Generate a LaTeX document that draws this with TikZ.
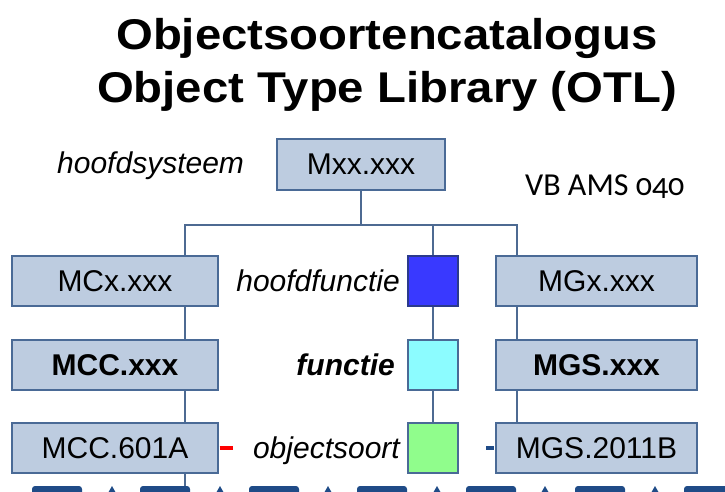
\documentclass[tikz,border=0pt]{standalone}
\usepackage{graphicx}
\usepackage{fontspec}
\setmainfont{Liberation Sans}
\newfontfamily\codefont[Numbers=OldStyle]{Carlito}

\definecolor{boxfill}{HTML}{BDCCE0}
\definecolor{boxline}{HTML}{4A6A96}
\definecolor{wire}{HTML}{4D6A92}
\definecolor{hfblue}{HTML}{3939FF}
\definecolor{hfline}{HTML}{2B3A8C}
\definecolor{fcyan}{HTML}{8CFCFF}
\definecolor{osgreen}{HTML}{90FD8C}
\definecolor{navy}{HTML}{1F4B87}

\tikzset{
  codebox/.style={draw=boxline, line width=1.4pt, fill=boxfill, inner sep=0pt,
    minimum height=50pt, font=\fontsize{30}{30}\selectfont},
  leftbox/.style={codebox, minimum width=206pt},
  rightbox/.style={codebox, minimum width=201pt},
  levelsq/.style={draw=boxline, line width=1.4pt, inner sep=0pt, minimum size=50pt},
  levellabel/.style={anchor=base east, inner sep=0pt, font=\fontsize{30}{30}\selectfont\itshape},
  titleline/.style={anchor=base, inner sep=0pt},
  wireline/.style={draw=wire, line width=1.2pt},
  tick/.style={line width=4pt},
}

\begin{document}
\begin{tikzpicture}[x=1pt, y=-1pt]
  \useasboundingbox (0,0) rectangle (725,491);

  % title
  \node[titleline] (t1) at (387,49)
    {\scalebox{1.1}[1]{\fontsize{43}{43}\selectfont\bfseries Objectsoortencatalogus}};
  \node[titleline] (t2) at (387,102)
    {\scalebox{1.1}[1]{\fontsize{43}{43}\selectfont\bfseries Object Type Library (OTL)}};

  % top of the hierarchy
  \node[codebox, minimum width=168pt, minimum height=51pt] (main) at (361,164.5) {Mxx.xxx};
  \node[anchor=base west, inner sep=0pt, font=\fontsize{30}{30}\selectfont\itshape]
    (hs) at (57,173) {hoofdsysteem};
  \node[anchor=base west, inner sep=0pt, font=\fontsize{32}{32}\selectfont\codefont]
    (vb) at (525,195) {VB AMS 040};

  % left column
  \node[leftbox] (mcx) at (115,281) {MCx.xxx};
  \node[leftbox, font=\fontsize{30}{30}\selectfont\bfseries] (mcc) at (115,365) {MCC.xxx};
  \node[leftbox] (mca) at (115,448) {MCC.601A};

  % right column
  \node[rightbox] (mgx) at (596.5,281) {MGx.xxx};
  \node[rightbox, font=\fontsize{30}{30}\selectfont\bfseries] (mgs) at (596.5,365) {MGS.xxx};
  \node[rightbox] (mgb) at (596.5,448) {MGS.2011B};

  % level squares with their labels
  \node[levelsq, draw=hfline, fill=hfblue] (sq1) at (433,281) {};
  \node[levelsq, fill=fcyan] (sq2) at (433,365) {};
  \node[levelsq, fill=osgreen] (sq3) at (433,448) {};
  \node[levellabel] (l1) at (400,291.5) {hoofdfunctie};
  \node[levellabel, font=\fontsize{30}{30}\selectfont\bfseries\itshape] (l2) at (395,375.5) {functie};
  \node[levellabel] (l3) at (400,458.5) {objectsoort};

  % column positions
  \coordinate (colL) at (185,0);
  \coordinate (colM) at (433,0);
  \coordinate (colR) at (517,0);
  \coordinate (bus) at (361,225);

  % strip along the bottom edge
  \foreach \x in {32,140,249,357,466,575,684}
    \fill[navy, rounded corners=3pt] (\x,486) rectangle ++(50,12);
  \foreach \x in {112,220,328,437,545,655}
    \fill[navy] (\x,486) -- (\x+8,500) -- (\x-8,500) -- cycle;
  \coordinate (strip) at (185,486);

  % connectors
  \draw[wireline] (main.south) -- (bus);
  \draw[wireline] (bus) -| (mcx.north -| colL);
  \draw[wireline] (bus) -| (mgx.north -| colR);
  \draw[wireline] (bus -| colM) -- (sq1.north);
  \draw[wireline] (mcx.south -| colL) -- (mcc.north -| colL);
  \draw[wireline] (mcc.south -| colL) -- (mca.north -| colL);
  \draw[wireline] (mca.south -| colL) -- (strip);
  \draw[wireline] (sq1) -- (sq2);
  \draw[wireline] (sq2) -- (sq3);
  \draw[wireline] (mgx.south -| colR) -- (mgs.north -| colR);
  \draw[wireline] (mgs.south -| colR) -- (mgb.north -| colR);

  % short marks beside the bottom row
  \draw[tick, red] ([xshift=1pt]mca.east) -- ++(13,0);
  \draw[tick, navy] ([xshift=-9pt]mgb.west) -- ++(8,0);
\end{tikzpicture}
\end{document}
